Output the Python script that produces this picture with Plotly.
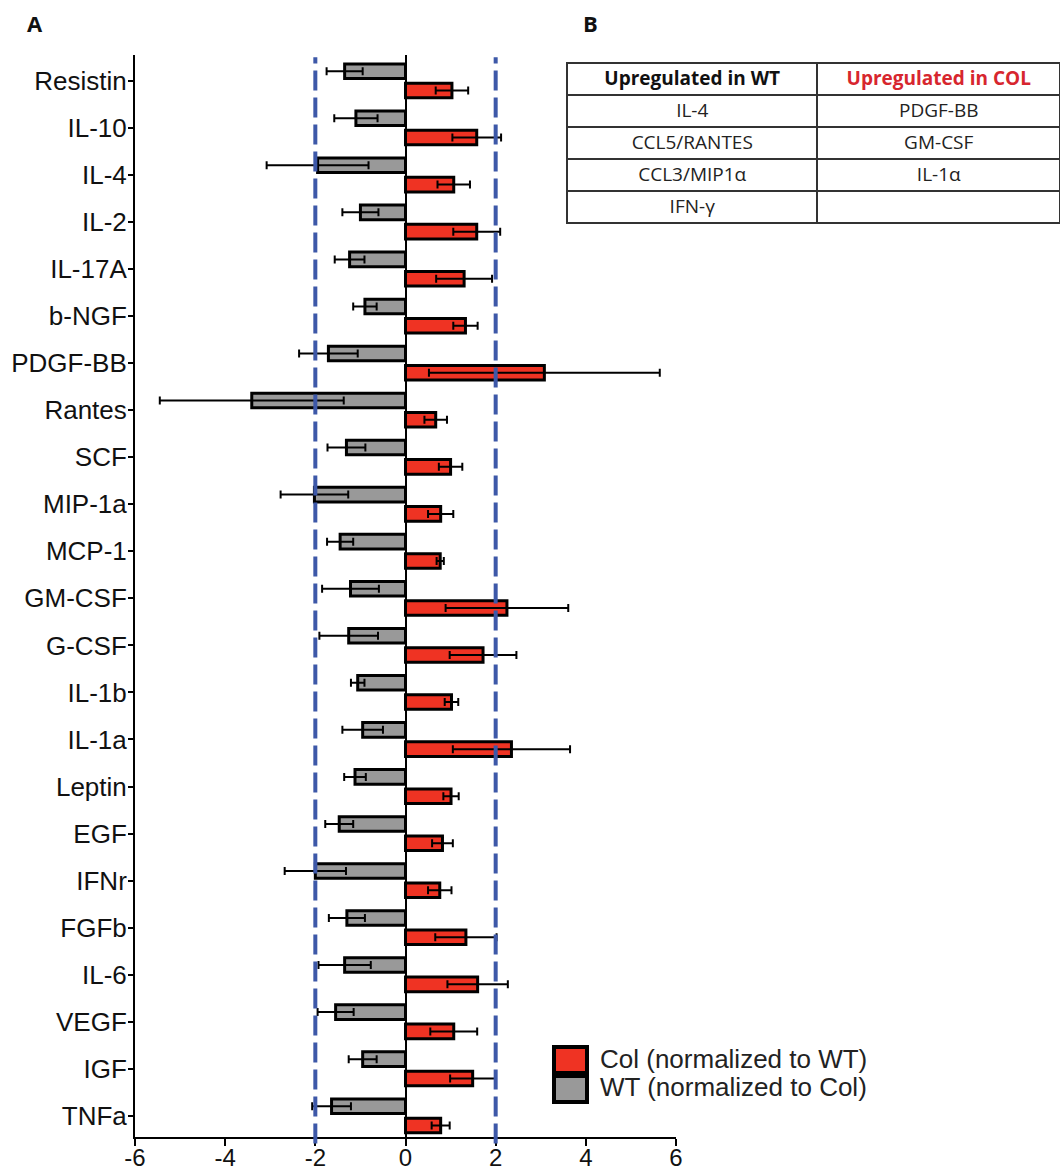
import plotly.graph_objects as go

# ---------------- data ----------------
categories = ["Resistin", "IL-10", "IL-4", "IL-2", "IL-17A", "b-NGF", "PDGF-BB",
              "Rantes", "SCF", "MIP-1a", "MCP-1", "GM-CSF", "G-CSF", "IL-1b",
              "IL-1a", "Leptin", "EGF", "IFNr", "FGFb", "IL-6", "VEGF", "IGF", "TNFa"]
wt_values = [-1.35, -1.10, -1.95, -1.00, -1.24, -0.90, -1.71, -3.41, -1.31, -2.02, -1.45,
             -1.22, -1.26, -1.06, -0.95, -1.12, -1.47, -2.00, -1.30, -1.35, -1.55, -0.95, -1.64]
wt_errors = [0.40, 0.48, 1.13, 0.40, 0.33, 0.26, 0.65, 2.04, 0.42, 0.75, 0.29,
             0.63, 0.65, 0.15, 0.45, 0.24, 0.31, 0.68, 0.40, 0.58, 0.40, 0.31, 0.43]
col_values = [1.03, 1.58, 1.07, 1.58, 1.30, 1.33, 3.08, 0.67, 1.00, 0.78, 0.77,
              2.25, 1.72, 1.02, 2.35, 1.01, 0.82, 0.76, 1.34, 1.60, 1.07, 1.49, 0.78]
col_errors = [0.36, 0.54, 0.36, 0.52, 0.62, 0.27, 2.56, 0.25, 0.26, 0.28, 0.08,
              1.36, 0.74, 0.15, 1.30, 0.17, 0.23, 0.26, 0.68, 0.67, 0.52, 0.50, 0.20]
threshold_lines = [-2, 2]
x_ticks = [-6, -4, -2, 0, 2, 4, 6]
x_tick_labels = ["-6", "-4", "-2", "0", "2", "4", "6"]

series_names = ["Col (normalized to WT)", "WT (normalized to Col)"]
table_header = ["Upregulated in WT", "Upregulated in COL"]
table_wt = ["IL-4", "CCL5/RANTES", "CCL3/MIP1α", "IFN-γ"]
table_col = ["PDGF-BB", "GM-CSF", "IL-1α", ""]

# ---------------- styling ----------------
RED = "#ef3323"
GRAY = "#999999"
BLUE = "#3d58a8"
FONT = "Liberation Sans, Arial, sans-serif"
TFONT = "Open Sans, Noto Sans, sans-serif"

W, H = 1060, 1172
ML, MR, MT, MB = 135, 0, 55, 35
PW, PH = W - ML - MR, H - MT - MB
PLOT_RIGHT = 676


def px(x):
    return (x - ML) / PW


def py(y):
    return (H - MB - y) / PH


fig = go.Figure()

fig.add_trace(go.Bar(
    y=categories, x=wt_values, orientation="h", name=series_names[1],
    offset=-0.36, width=0.31,
    marker=dict(color=GRAY, line=dict(color="black", width=3)),
    error_x=dict(type="data", array=wt_errors, color="black", thickness=2, width=4),
    showlegend=False,
))
fig.add_trace(go.Bar(
    y=categories, x=col_values, orientation="h", name=series_names[0],
    offset=0.05, width=0.31,
    marker=dict(color=RED, line=dict(color="black", width=3)),
    error_x=dict(type="data", array=col_errors, color="black", thickness=2, width=4),
    showlegend=False,
))

# table B
fig.add_trace(go.Table(
    domain=dict(x=[px(567), 1.0], y=[py(400), py(63)]),
    columnwidth=[253, 245],
    header=dict(values=table_header, height=32, align="center",
                fill_color="white", line=dict(color="#333333", width=2),
                font=dict(family=TFONT, size=19, weight="bold",
                          color=["#111111", "#d7262e"])),
    cells=dict(values=[table_wt, table_col], height=32, align="center",
               fill_color="white", line=dict(color="#333333", width=2),
               font=dict(family=TFONT, size=19, color="#222222")),
))

# dashed threshold lines
for xv in threshold_lines:
    fig.add_shape(type="line", xref="x", yref="paper", x0=xv, x1=xv,
                  y0=-0.006, y1=0.998,
                  line=dict(color=BLUE, width=4, dash="20px,7px"))

# legend (manual, large swatches)
legend_rows = [(series_names[0], RED, 1047, 1073, 1059),
               (series_names[1], GRAY, 1076, 1102, 1087)]
for name, color, ytop, ybot, ytxt in legend_rows:
    fig.add_shape(type="rect", xref="paper", yref="paper",
                  x0=px(554), x1=px(587), y0=py(ybot), y1=py(ytop),
                  fillcolor=color, line=dict(color="black", width=4))
    fig.add_annotation(xref="paper", yref="paper", x=px(598), y=py(ytxt),
                       text=name, showarrow=False, xanchor="left", yanchor="middle",
                       font=dict(family=FONT, size=26, color="#222222"))

# panel letters
for letter, xpos in [("A", 35), ("B", 590)]:
    fig.add_annotation(xref="paper", yref="paper", x=px(xpos), y=py(23),
                       text="<b>%s</b>" % letter, showarrow=False,
                       xanchor="center", yanchor="middle",
                       font=dict(family=TFONT, size=22, color="#111111"))

fig.update_layout(
    width=W, height=H,
    margin=dict(l=ML, r=MR, t=MT, b=MB),
    paper_bgcolor="white", plot_bgcolor="white",
    barmode="overlay",
    showlegend=False,
    font=dict(family=FONT, size=26, color="#111111"),
    xaxis=dict(domain=[0, (PLOT_RIGHT - ML) / PW], range=[-6, 6],
               tickvals=x_ticks, ticktext=x_tick_labels,
               showgrid=False, automargin=False,
               zeroline=True, zerolinecolor="black", zerolinewidth=2,
               showline=True, linecolor="black", linewidth=2,
               ticks="outside", ticklen=7, tickwidth=2, tickcolor="black",
               ticklabelstandoff=-9,
               tickfont=dict(family=FONT, size=24, color="#111111")),
    yaxis=dict(type="category", range=[22.45, -0.55], showgrid=False, automargin=False,
               showline=True, linecolor="black", linewidth=2,
               ticks="outside", ticklen=5, tickwidth=2, tickcolor="black",
               ticklabelstandoff=-4,
               tickfont=dict(family=FONT, size=26, color="#111111")),
)

fig.write_html("out.html")
